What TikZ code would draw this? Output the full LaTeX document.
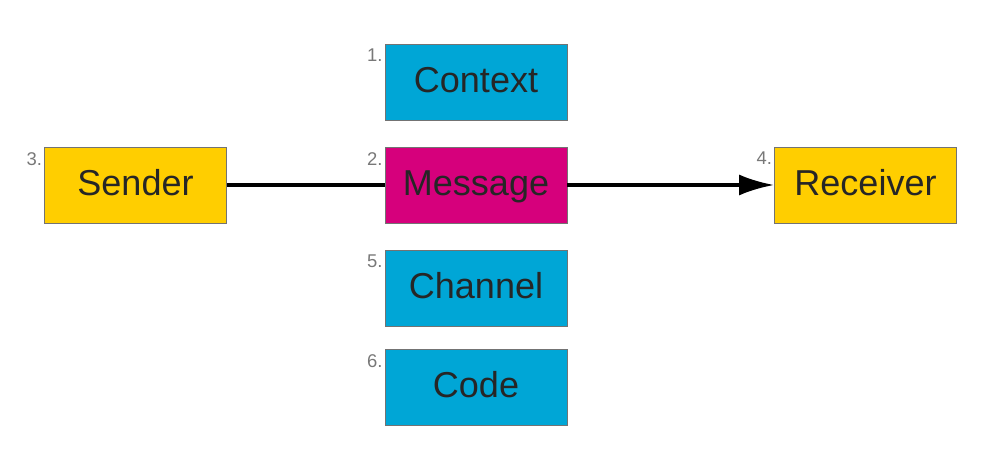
\documentclass[tikz,border=0pt]{standalone}
\usepackage{fontspec}
\setmainfont{Liberation Sans}
\usetikzlibrary{arrows.meta}
\definecolor{boxyellow}{RGB}{255,206,0}
\definecolor{boxblue}{RGB}{0,166,214}
\definecolor{boxpink}{RGB}{214,0,124}
\definecolor{numgray}{RGB}{120,120,120}
\begin{document}
\begin{tikzpicture}[
    font=\fontsize{20.5}{24}\selectfont,
    box/.style={draw=black!55, line width=0.5pt, minimum height=15.2mm,
      minimum width=36.4mm, inner sep=2pt, text=black!85,
      text height=15pt, text depth=3pt},
    party/.style={box, fill=boxyellow},
    factor/.style={box, fill=boxblue},
    msgbox/.style={box, fill=boxpink},
    num/.style={anchor=north east, inner sep=0pt, text=numgray,
      font=\fontsize{10.5}{12}\selectfont, xshift=-1pt, yshift=-3pt},
    line/.style={line width=2pt},
    ar/.style={line, -{Latex[length=7mm, width=4.2mm]}},
  ]
    \useasboundingbox (0,0) rectangle (19.8,9.3);
    % Parties
    \node[party]  (sender)   at (2.71,5.6)  {Sender};
    \node[party]  (receiver) at (17.31,5.6) {Receiver};
    % Factors in the middle column
    \node[factor] (context)  at (9.52,7.66) {Context};
    \node[msgbox] (message)  at (9.52,5.6)  {Message};
    \node[factor] (channel)  at (9.52,3.54) {Channel};
    \node[factor] (code)     at (9.52,1.56) {Code};
    % Numbers
    \node[num] (n1) at (context.north west)  {1.};
    \node[num] (n2) at (message.north west)  {2.};
    \node[num] (n3) at (sender.north west)   {3.};
    \node[num] (n4) at (receiver.north west) {4.};
    \node[num] (n5) at (channel.north west)  {5.};
    \node[num] (n6) at (code.north west)     {6.};
    % Connectors
    \draw[line] (sender)  -- (message);
    \draw[ar]   (message) -- (receiver);
\end{tikzpicture}
\end{document}
